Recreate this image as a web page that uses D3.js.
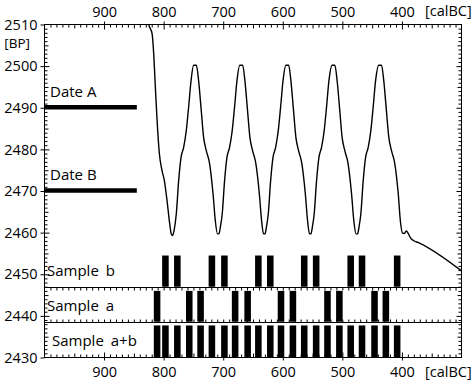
<!DOCTYPE html>
<html><head><meta charset="utf-8">
<script src="https://cdn.jsdelivr.net/npm/d3@7"></script>
<style>
body{margin:0;background:#fff}
svg{display:block}
text{font-family:"Open Sans",sans-serif;fill:#000}
</style>
</head><body>
<svg id="c" width="474" height="384"></svg>
<script>
// ---------- data ----------
const xTickLabels = [900, 800, 700, 600, 500, 400];
const yTickLabels = [2510, 2500, 2490, 2480, 2470, 2460, 2450, 2440, 2430];
const xUnit = "[calBC]";
const yUnit = "[BP]";
const dateLabels = ["Date A", "Date B"];
const dateBP = [2490, 2470];
const curveYear = [827,825,819.4,816.7,813.9,811,807.2,802.7,798.8,794.3,789.9,787,785,782.4,778.7,774.8,770.8,766.4,762,758.1,754,749.7,745.1,
  741.3,737.3,732.9,728.4,722.9,717.1,713.3,709.6,707.2,
  704.9,701.6,697.7,693.7,689.3,684.9,681,676.9,672.3,667.4,
  663.6,659.6,655.2,650.7,645.2,639.4,635.6,632.3,629.9,
  627.6,624.3,620.4,616.4,612,607.6,603.7,599.6,594.8,590.2,
  586.4,582.4,578,573.5,568,562.2,558.4,555.2,552.8,
  550.5,547.2,543.3,539.3,534.9,530.5,526.6,522.5,517.2,512.6,
  508.8,504.8,500.4,495.9,490.4,484.6,480.8,476.9,474.5,
  472.2,468.9,465,461,456.6,452.2,448.3,444.2,438.9,434.3,
  430.5,426.5,422,417.5,412,406.2,402.4,399,396,392.5,389.5,385,380.8,372.4,300];
const curveBP = [2511.5,2510,2507.8,2503,2494.9,2486.9,2479,2474.9,2472.5,2467.7,2462.2,2459.6,2459.3,2460.6,2464.6,2472.5,2478.1,2480.5,2484.5,2490.1,2496.5,2500.2,2500.2,
  2496.5,2490.1,2482.9,2479.7,2476.6,2469.4,2462.9,2459.7,2459.7,
  2461.2,2464.6,2472.5,2478.1,2480.5,2484.5,2490.1,2496.5,2500.2,2500.2,
  2496.5,2490.1,2482.9,2479.7,2476.6,2469.4,2462.9,2459.7,2459.7,
  2461.2,2464.6,2472.5,2478.1,2480.5,2484.5,2490.1,2496.5,2500.2,2500.2,
  2496.5,2490.1,2482.9,2479.7,2476.6,2469.4,2462.9,2459.7,2459.7,
  2461.2,2464.6,2472.5,2478.1,2480.5,2484.5,2490.1,2496.5,2500.2,2500.2,
  2496.5,2490.1,2482.9,2479.7,2476.6,2469.4,2462.9,2459.7,2459.7,
  2461.2,2464.6,2472.5,2478.1,2480.5,2484.5,2490.1,2496.5,2500.2,2500.2,
  2496.5,2490.1,2482.9,2479.7,2476.6,2469.4,2462.5,2459.9,2459.8,2460.4,2459.8,2458.6,2458.1,2457.6,2450.8];
const sampleNames = ["Sample b", "Sample a", "Sample a+b"];
const sampleB  = [797,777,719,698,641,621,564,544,486,467,408];
const sampleA  = [811,757,738,680,659,603,583,525,505,446,427];
const sampleAB = [811,797,777,757,738,719,698,680,659,641,621,603,583,564,544,525,505,486,467,446,427,408];

// ---------- layout ----------
const W = 474, H = 384;
const L = 44.5, R = 461.5, T = 24.5, B = 357.5;
const x = d3.scaleLinear().domain([1000, 300]).range([L, R]);
const y = d3.scaleLinear().domain([2430, 2510]).range([B, T]);
const FONT = "14.5px";
const barHalfYears = 5.5;
const dateBarEnd = 845;
const panels = [
  {name: sampleNames[0], data: sampleB,  top: 2454.5, bottom: 2447,   lx: 47},
  {name: sampleNames[1], data: sampleA,  top: 2446,   bottom: 2438.6, lx: 47},
  {name: sampleNames[2], data: sampleAB, top: 2437.7, bottom: 2430,   lx: 52}
];

const svg = d3.select("#c");
svg.append("defs").append("clipPath").attr("id","clip")
  .append("rect").attr("x",L).attr("y",T).attr("width",R-L).attr("height",B-T);

function axisG(gen, tx, ty){
  const g = svg.append("g").attr("transform",`translate(${tx},${ty})`).call(gen);
  g.select(".domain").remove();
  g.selectAll("line").attr("stroke","#000").attr("stroke-width",1);
  return g;
}
const rng = (a,b,s)=>d3.range(a,b,s);
const yrMinor = rng(990, 300, -10).filter(v=>v%50!==0);
const yr50 = rng(950, 300, -100);
const yr100 = rng(900, 300, -100);
const bpMinor = rng(2431, 2510, 1).filter(v=>v%5!==0);
const bp5 = rng(2435, 2510, 10);
const bp10 = rng(2440, 2510, 10);

axisG(d3.axisBottom(x).tickValues(yrMinor).tickSize(3).tickFormat(""),0,T);
axisG(d3.axisBottom(x).tickValues(yr50).tickSize(4).tickFormat(""),0,T);
axisG(d3.axisBottom(x).tickValues(yr100).tickSize(5).tickFormat(""),0,T);
axisG(d3.axisTop(x).tickValues(yr100).tickSize(3).tickFormat(""),0,T);
axisG(d3.axisTop(x).tickValues(yrMinor).tickSize(3).tickFormat(""),0,B);
axisG(d3.axisTop(x).tickValues(yr50).tickSize(4).tickFormat(""),0,B);
axisG(d3.axisTop(x).tickValues(yr100).tickSize(5).tickFormat(""),0,B);
axisG(d3.axisBottom(x).tickValues(yr100).tickSize(3).tickFormat(""),0,B);
axisG(d3.axisRight(y).tickValues(bpMinor).tickSize(3).tickFormat(""),L,0);
axisG(d3.axisRight(y).tickValues(bp5).tickSize(4).tickFormat(""),L,0);
axisG(d3.axisRight(y).tickValues(bp10).tickSize(5).tickFormat(""),L,0);
axisG(d3.axisLeft(y).tickValues(yTickLabels).tickSize(4).tickFormat(""),L,0);
axisG(d3.axisLeft(y).tickValues(bpMinor).tickSize(3).tickFormat(""),R,0);
axisG(d3.axisLeft(y).tickValues(bp5).tickSize(4).tickFormat(""),R,0);
axisG(d3.axisLeft(y).tickValues(bp10).tickSize(5).tickFormat(""),R,0);

function labels(g){
  g.select(".domain").remove();
  g.selectAll("text").attr("font-size",FONT).attr("font-family","'Open Sans',sans-serif").attr("fill","#000");
}
svg.append("g").attr("transform",`translate(0,${T})`)
  .call(d3.axisTop(x).tickValues(xTickLabels).tickSize(0).tickPadding(8).tickFormat(d3.format("d"))).call(labels);
svg.append("g").attr("transform",`translate(0,${B})`)
  .call(d3.axisBottom(x).tickValues(xTickLabels).tickSize(0).tickPadding(9).tickFormat(d3.format("d"))).call(labels);
svg.append("g").attr("transform",`translate(${L},0)`)
  .call(d3.axisLeft(y).tickValues(yTickLabels).tickSize(0).tickPadding(7).tickFormat(d3.format("d"))).call(labels);

svg.append("text").attr("x",425).attr("y",16).attr("font-size",FONT).text(xUnit);
svg.append("text").attr("x",425).attr("y",377).attr("font-size",FONT).text(xUnit);
svg.append("text").attr("x",30).attr("y",48).attr("text-anchor","end").attr("font-size","13.5px").text(yUnit);

panels.slice(0,2).forEach((p,i)=>{
  const yy = Math.round(y(p.bottom))+0.5;
  svg.append("line").attr("x1",L).attr("x2",R).attr("y1",yy).attr("y2",yy).attr("stroke","#000");
  if(i===0){
    axisG(d3.axisBottom(x).tickValues(rng(990,300,-10)).tickSize(3).tickFormat(""),0,yy);
  } else {
    axisG(d3.axisTop(x).tickValues(rng(990,300,-10)).tickSize(3).tickFormat(""),0,yy);
  }
});
panels.forEach(p=>{
  svg.append("g").selectAll("rect").data(p.data).join("rect")
    .attr("x",d=>x(d+barHalfYears))
    .attr("width",d=>x(d-barHalfYears)-x(d+barHalfYears))
    .attr("y",y(p.top))
    .attr("height",y(p.bottom)-y(p.top))
    .attr("fill","#000");
  const mid = (y(p.top)+y(p.bottom))/2;
  svg.append("text").attr("x",p.lx).attr("y",mid+4.5).attr("font-size","15px")
    .attr("word-spacing","3px").text(p.name);
});

dateBP.forEach((bp,i)=>{
  svg.append("line").attr("x1",x(1000)).attr("x2",x(dateBarEnd))
    .attr("y1",y(bp)-0.5).attr("y2",y(bp)-0.5).attr("stroke","#000").attr("stroke-width",4.6);
  svg.append("text").attr("x",50).attr("y",y(bp)-11).attr("font-size","15px").text(dateLabels[i]);
});

const pts = curveYear.map((yr,i)=>[yr, curveBP[i]]);
svg.append("path").datum(pts).attr("clip-path","url(#clip)")
  .attr("fill","none").attr("stroke","#000").attr("stroke-width",1.4)
  .attr("d", d3.line().x(d=>x(d[0])).y(d=>y(d[1])).curve(d3.curveMonotoneX));

svg.append("rect").attr("x",L).attr("y",T).attr("width",R-L).attr("height",B-T)
  .attr("fill","none").attr("stroke","#000").attr("stroke-width",1);
</script>
</body></html>
